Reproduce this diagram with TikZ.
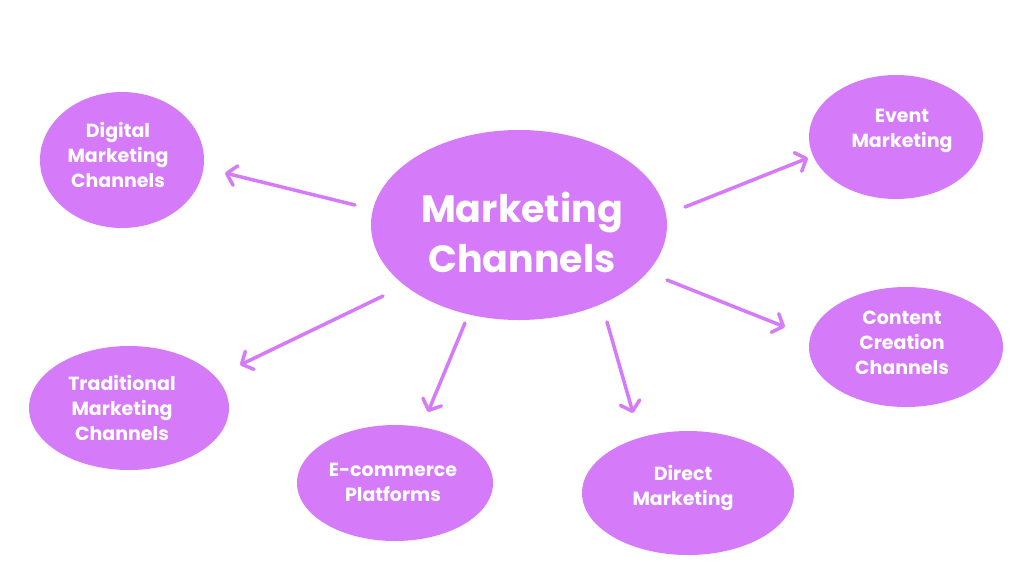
\documentclass[tikz,border=0pt]{standalone}
\usepackage{fontspec}
\newfontfamily\pop{Poppins}
\usetikzlibrary{arrows.meta}
\definecolor{vio}{HTML}{D57AF9}
\begin{document}
\begin{tikzpicture}[x=1pt,y=-1pt,
  bub/.style={text=white,font=\pop\bfseries\fontsize{19}{25}\selectfont,align=center,inner sep=0pt},
  arr/.style={draw=vio,line width=3.5pt,line cap=round,-{Straight Barb[length=9pt,width=20pt,line width=3.5pt,round]}}]
\useasboundingbox (0,0) rectangle (1024,576);
\fill[vio] (519,225) ellipse [x radius=148,y radius=95];
\node[font=\pop\bfseries\fontsize{38}{50}\selectfont,text=white,align=center] (c) at (522,232) {Marketing\\Channels};
\fill[vio] (122,160) ellipse [x radius=82,y radius=68];
\node[bub] (d) at (118,155) {Digital\\Marketing\\Channels};
\fill[vio] (896,137) ellipse [x radius=87,y radius=62];
\node[bub] (e) at (902,131) {Event\\Marketing};
\fill[vio] (129,408) ellipse [x radius=100,y radius=62];
\node[bub] (t) at (122,408) {Traditional\\Marketing\\Channels};
\fill[vio] (395,483) ellipse [x radius=98,y radius=58];
\node[bub] (ec) at (393,482) {E-commerce\\Platforms};
\fill[vio] (688,493) ellipse [x radius=106,y radius=62];
\node[bub] (dm) at (683,488) {Direct\\Marketing};
\fill[vio] (906,347) ellipse [x radius=97,y radius=60];
\node[bub] (cc) at (902,343) {Content\\Creation\\Channels};
\coordinate (a1) at (355,205); \coordinate (b1) at (225,173);
\coordinate (a2) at (685,207); \coordinate (b2) at (808,158);
\coordinate (a3) at (383,296); \coordinate (b3) at (240,365);
\coordinate (a4) at (465,323); \coordinate (b4) at (428,412);
\coordinate (a5) at (607,322); \coordinate (b5) at (633,413);
\coordinate (a6) at (667,280); \coordinate (b6) at (785,327);
\foreach \i in {1,...,6} \draw[arr] (a\i) -- (b\i);
\end{tikzpicture}
\end{document}
